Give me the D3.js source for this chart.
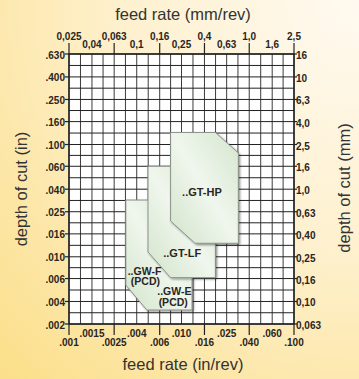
<!DOCTYPE html>
<html>
<head>
<meta charset="utf-8">
<script src="https://cdn.jsdelivr.net/npm/d3@7"></script>
<style>
  html, body { margin: 0; padding: 0; }
  body { width: 359px; height: 379px; overflow: hidden; }
  svg { display: block; }
</style>
</head>
<body>
<svg id="chart" width="359" height="379"></svg>
<script>
// ---- data ----
// feed rate tick values (mm/rev) and labels
const feedMM = [0.025, 0.04, 0.063, 0.1, 0.16, 0.25, 0.4, 0.63, 1.0, 1.6, 2.5];
const feedMMLabels = ['0,025','0,04','0,063','0,1','0,16','0,25','0,4','0,63','1,0','1,6','2,5'];
const feedInLabels = ['.001','.0015','.0025','.004','.006','.010','.016','.025','.040','.060','.100'];
// depth of cut tick values (mm) and labels
const depthMM = [0.063, 0.10, 0.16, 0.25, 0.40, 0.63, 1.0, 1.6, 2.5, 4.0, 6.3, 10, 16];
const depthMMLabels = ['0,063','0,10','0,16','0,25','0,40','0,63','1,0','1,6','2,5','4,0','6,3','10','16'];
const depthInLabels = ['.002','.004','.006','.010','.016','.025','.040','.060','.100','.160','.250','.400','.630'];
// application regions: [feed mm/rev, depth mm]
const regionGW = [[0.08,0.80],[0.31,0.80],[0.31,0.084],[0.123,0.084],[0.08,0.14]];
const regionLF = [[0.126,1.6],[0.50,1.6],[0.50,0.163],[0.20,0.163],[0.126,0.276]];
const regionHP = [[0.20,3.2],[0.50,3.2],[0.80,2.1],[0.80,0.33],[0.33,0.33],[0.20,0.52]];
// label text lines and anchor (feed mm, depth mm) for each line
const regionLabels = [
  { text: '..GT-HP', x: 0.38, y: 0.95, size: 11 },
  { text: '..GT-LF', x: 0.2535, y: 0.269, size: 11 },
  { text: '..GW-F', x: 0.1173, y: 0.187, size: 10.5 },
  { text: '(PCD)', x: 0.1195, y: 0.150, size: 10.5 },
  { text: '..GW-E', x: 0.216, y: 0.1235, size: 10.5 },
  { text: '(PCD)', x: 0.211, y: 0.098, size: 10.5 }
];

// ---- layout ----
const svg = d3.select('#chart');
const L = 69, R = 294, T = 54, B = 324;
const x = d3.scaleLog().domain([0.025, 2.5]).range([L, R]);
const y = d3.scaleLog().domain([0.063, 16]).range([B, T]);
const textColor = '#2a2522';

const defs = svg.append('defs');
const bg = defs.append('radialGradient').attr('id', 'bg')
  .attr('cx', '100%').attr('cy', '0%').attr('r', '140%');
bg.append('stop').attr('offset', '0%').attr('stop-color', '#fffaf1');
bg.append('stop').attr('offset', '45%').attr('stop-color', '#fef1d0');
bg.append('stop').attr('offset', '100%').attr('stop-color', '#fbdf8a');

const fillG = defs.append('linearGradient').attr('id', 'fillG')
  .attr('x1', '0%').attr('y1', '100%').attr('x2', '100%').attr('y2', '0%');
fillG.append('stop').attr('offset', '0%').attr('stop-color', '#d1e4ca');
fillG.append('stop').attr('offset', '50%').attr('stop-color', '#f0f6ed');
fillG.append('stop').attr('offset', '100%').attr('stop-color', '#d4e6cd');

const sh = defs.append('filter').attr('id', 'sh').attr('x', '-10%').attr('y', '-10%').attr('width', '130%').attr('height', '130%');
sh.append('feDropShadow').attr('dx', 1.2).attr('dy', 1.2).attr('stdDeviation', 0.8)
  .attr('flood-color', '#000').attr('flood-opacity', 0.45);

svg.append('rect').attr('width', 359).attr('height', 379).attr('fill', 'url(#bg)');

// plot background
svg.append('rect').attr('x', L).attr('y', T).attr('width', R - L).attr('height', B - T).attr('fill', '#fff');

// grid: tick values plus geometric midpoints
function withMid(arr) {
  const out = [];
  arr.forEach((v, i) => {
    out.push(v);
    if (i < arr.length - 1) out.push(Math.sqrt(v * arr[i + 1]));
  });
  return out;
}
const gx = withMid(feedMM), gy = withMid(depthMM);
const grid = svg.append('g');
grid.selectAll('line.v').data(gx).join('line')
  .attr('x1', d => x(d)).attr('x2', d => x(d)).attr('y1', T).attr('y2', B)
  .attr('stroke', '#3c3c3c').attr('stroke-width', 1);
grid.selectAll('line.h').data(gy).join('line')
  .attr('y1', d => y(d)).attr('y2', d => y(d)).attr('x1', L).attr('x2', R)
  .attr('stroke', '#222').attr('stroke-width', 1);

// regions
const line = d3.line().x(d => x(d[0])).y(d => y(d[1])).curve(d3.curveLinearClosed);
[regionGW, regionLF, regionHP].forEach(r => {
  svg.append('path').attr('d', line(r))
    .attr('fill', 'url(#fillG)')
    .attr('stroke', '#8d938b').attr('stroke-width', 1)
    .attr('filter', 'url(#sh)');
});

// region labels
regionLabels.forEach(lb => {
  svg.append('text')
    .attr('x', x(lb.x)).attr('y', y(lb.y)).attr('dy', '0.36em')
    .attr('text-anchor', 'middle')
    .attr('font-family', 'Liberation Sans, Arial, sans-serif')
    .attr('font-weight', 'bold').attr('font-size', lb.size)
    .attr('fill', textColor).text(lb.text);
});

// frame
svg.append('rect').attr('x', L).attr('y', T).attr('width', R - L).attr('height', B - T)
  .attr('fill', 'none').attr('stroke', '#222').attr('stroke-width', 1.5);

const tickFont = 'Liberation Sans, Arial, sans-serif';
// top axis (mm)
const topAxis = svg.append('g');
feedMM.forEach((v, i) => {
  const px = x(v);
  if (i % 2 === 0) {
    topAxis.append('line').attr('x1', px).attr('x2', px).attr('y1', T).attr('y2', T - 11)
      .attr('stroke', '#222').attr('stroke-width', 1.2);
  }
  topAxis.append('text').attr('x', px).attr('y', i % 2 === 0 ? 40 : 48)
    .attr('text-anchor', 'middle').attr('font-family', tickFont).attr('font-weight', 'bold')
    .attr('font-size', 10).attr('fill', textColor).text(feedMMLabels[i]);
});
// bottom axis (in)
const botAxis = svg.append('g');
feedMM.forEach((v, i) => {
  const px = x(v);
  if (i % 2 === 0) {
    botAxis.append('line').attr('x1', px).attr('x2', px).attr('y1', B).attr('y2', B + 11)
      .attr('stroke', '#222').attr('stroke-width', 1.2);
  }
  botAxis.append('text').attr('x', px).attr('y', i % 2 === 0 ? 346 : 336.5)
    .attr('text-anchor', 'middle').attr('font-family', tickFont).attr('font-weight', 'bold')
    .attr('font-size', 10).attr('fill', textColor).text(feedInLabels[i]);
});
// left axis (in)
depthMM.forEach((v, i) => {
  const py = y(v);
  svg.append('line').attr('x1', L - 4).attr('x2', L).attr('y1', py).attr('y2', py)
    .attr('stroke', '#222').attr('stroke-width', 1.2);
  svg.append('text').attr('x', L - 4).attr('y', py + 4.5)
    .attr('text-anchor', 'end').attr('font-family', tickFont).attr('font-weight', 'bold')
    .attr('font-size', 10).attr('fill', textColor).text(depthInLabels[i]);
});
// right axis (mm)
depthMM.forEach((v, i) => {
  const py = y(v);
  svg.append('line').attr('x1', R).attr('x2', R + 3).attr('y1', py).attr('y2', py)
    .attr('stroke', '#222').attr('stroke-width', 1.2);
  svg.append('text').attr('x', R + 2).attr('y', py + 5)
    .attr('text-anchor', 'start').attr('font-family', tickFont).attr('font-weight', 'bold')
    .attr('font-size', 10).attr('fill', textColor).text(depthMMLabels[i]);
});

// axis titles
const titleFont = 'Liberation Sans, Arial, sans-serif';
svg.append('text').attr('x', 183).attr('y', 19.5).attr('text-anchor', 'middle')
  .attr('font-family', titleFont).attr('font-size', 16.5).attr('fill', '#333')
  .text('feed rate (mm/rev)');
svg.append('text').attr('x', 183).attr('y', 370).attr('text-anchor', 'middle')
  .attr('font-family', titleFont).attr('font-size', 16.5).attr('fill', '#333')
  .text('feed rate (in/rev)');
svg.append('text').attr('transform', 'translate(27,189) rotate(-90)').attr('text-anchor', 'middle')
  .attr('font-family', titleFont).attr('font-size', 16.5).attr('fill', '#333')
  .text('depth of cut (in)');
svg.append('text').attr('transform', 'translate(350,188) rotate(-90)').attr('text-anchor', 'middle')
  .attr('font-family', titleFont).attr('font-size', 16.5).attr('fill', '#333')
  .text('depth of cut (mm)');
</script>
</body>
</html>
